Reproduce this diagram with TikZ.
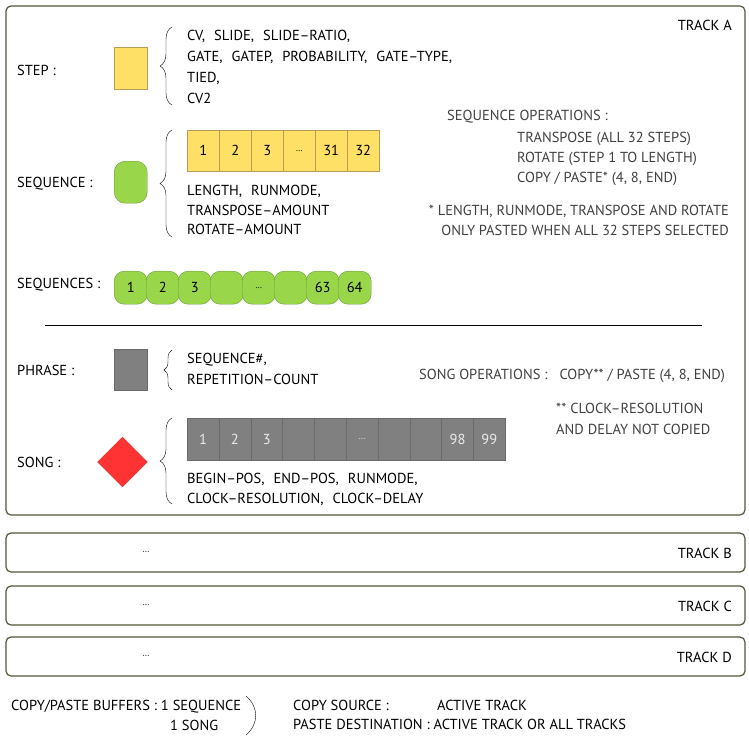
\documentclass[tikz,border=0pt]{standalone}
\usepackage{fontspec}
\setmainfont{PT Sans}
\usetikzlibrary{shapes.geometric,decorations.pathreplacing}
\definecolor{trackline}{HTML}{55553A}
\definecolor{stepfill}{HTML}{FFE066}
\definecolor{stepline}{HTML}{B89E55}
\definecolor{seqfill}{HTML}{99D64A}
\definecolor{seqline}{HTML}{6B9A3C}
\definecolor{phrfill}{HTML}{808080}
\definecolor{phrline}{HTML}{6A6A6A}
\definecolor{songfill}{HTML}{FF3333}
\definecolor{songline}{HTML}{D02A2A}
\definecolor{optext}{HTML}{404040}
\newcommand\celldots{{\fontsize{9}{9}\selectfont\ldots}}
\newcommand\gap{\hspace{9pt}}
\begin{document}
\begin{tikzpicture}[x=1pt, y=-1pt, font=\fontsize{14.5}{20}\selectfont,
	track/.style={draw=trackline, line width=1.2pt, rounded corners=5pt},
	label/.style={anchor=base west, inner sep=0pt},
	txt/.style={anchor=north west, inner sep=0pt, align=left},
	optxt/.style={txt, text=optext},
	cell/.style={minimum width=32pt, minimum height=41pt, inner sep=0pt, anchor=north west},
	brc/.style={decorate, decoration={brace, amplitude=12pt}, thin}]
	\useasboundingbox (0,0) rectangle (749,744);
	% track A
	\draw[track] (6,6) rectangle (745,515);
	\node[anchor=base east, inner sep=0pt] (trackA) at (732,30) {TRACK A};
	% step
	\node[label] (lstep) at (17,75) {STEP :};
	\node[draw=stepline, fill=stepfill, minimum width=33pt, minimum height=42pt, inner sep=0pt, anchor=north west] (step) at (114,47) {};
	\draw[brc] (172,105) -- (172,27);
	\node[txt, font=\fontsize{14.5}{21}\selectfont] (stepattr) at (187,30) {CV,\gap SLIDE,\gap SLIDE--RATIO,\\GATE,\gap GATEP,\gap PROBABILITY,\gap GATE--TYPE,\\TIED,\\CV2};
	% sequence
	\node[label] (lseq) at (17,187) {SEQUENCE :};
	\node[draw=seqline, fill=seqfill, rounded corners=11pt, minimum width=33pt, minimum height=42pt, inner sep=0pt, anchor=north west] (seq) at (114,161) {};
	\draw[brc] (172,237) -- (172,130);
	\foreach \t [count=\i from 0] in {1,2,3,\celldots,31,32}
		\node[cell, draw=stepline, fill=stepfill] (sc\i) at ({187+32*\i},130) {\t};
	\node[txt, font=\fontsize{14.5}{19.5}\selectfont] (seqattr) at (187,185) {LENGTH,\gap RUNMODE,\\TRANSPOSE--AMOUNT\\ROTATE--AMOUNT};
	% sequence operations
	\node[optxt] (seqops) at (447,110) {SEQUENCE OPERATIONS :};
	\node[optxt] (seqoplist) at (517,132) {TRANSPOSE (ALL 32 STEPS)\\ROTATE (STEP 1 TO LENGTH)\\COPY / PASTE* (4, 8, END)};
	\node[anchor=north east, inner sep=0pt, align=right, text=optext, font=\fontsize{14.5}{19.5}\selectfont] (seqnote) at (729,205) {* LENGTH, RUNMODE, TRANSPOSE AND ROTATE\\ONLY PASTED WHEN ALL 32 STEPS SELECTED};
	% sequences
	\node[label] (lseqs) at (17,288) {SEQUENCES :};
	\foreach \t [count=\i from 0] in {1,2,3,{},\celldots,{},63,64}
		\node[draw=seqline, fill=seqfill, rounded corners=10pt, minimum width=33pt, minimum height=33pt, inner sep=0pt, anchor=north west] (sq\i) at ({114+32*\i},271) {\t};
	\draw[line width=1pt] (45,325) -- (702,325);
	% phrase
	\node[label] (lphr) at (17,375) {PHRASE :};
	\node[draw=phrline, fill=phrfill, minimum width=33pt, minimum height=41pt, inner sep=0pt, anchor=north west] (phr) at (114,349) {};
	\draw[brc, decoration={amplitude=8pt}] (172,390) -- (172,350);
	\node[txt, font=\fontsize{14.5}{21}\selectfont] (phrattr) at (187,353) {SEQUENCE\#,\\REPETITION--COUNT};
	% song operations
	\node[label, text=optext] (songops) at (419,379) {SONG OPERATIONS :\hspace{12pt}COPY** / PASTE (4, 8, END)};
	\node[optxt, font=\fontsize{14.5}{21}\selectfont] (songnote) at (556,403) {** CLOCK--RESOLUTION\\AND DELAY NOT COPIED};
	% song
	\node[label] (lsong) at (17,467) {SONG :};
	\node[diamond, draw=songline, fill=songfill, minimum width=50pt, minimum height=50pt, inner sep=0pt] (song) at (122.5,462) {};
	\draw[brc] (172,504) -- (172,418);
	\foreach \t [count=\i from 0] in {1,2,3,{},{},\celldots,{},{},98,99}
		\node[cell, minimum width=31.8pt, minimum height=42pt, draw=phrline, fill=phrfill, text=white!92!black] (pc\i) at ({187+31.8*\i},418) {\t};
	\node[txt, font=\fontsize{14.5}{19.5}\selectfont] (songattr) at (187,473) {BEGIN--POS,\gap END--POS,\gap RUNMODE,\\CLOCK--RESOLUTION,\gap CLOCK--DELAY};
	% tracks B, C, D
	\foreach \n/\y in {B/533,C/586,D/637} {
		\draw[track] (6,\y) rectangle (745,\y+39);
		\node (dots\n) at (146,\y+19) {\celldots};
		\node[anchor=base east, inner sep=0pt] (track\n) at (732,\y+25) {TRACK \n};
	}
	% copy / paste buffers
	\node[label] (buf) at (11,710) {COPY/PASTE BUFFERS : 1 SEQUENCE};
	\node[label] (bufsong) at (170,730) {1 SONG};
	\draw (246,696) .. controls (259,707) and (259,724) .. (246,735);
	\node[label] (src) at (293,710) {COPY SOURCE :};
	\node[label] (srctrk) at (437,710) {ACTIVE TRACK};
	\node[label] (dst) at (293,729) {PASTE DESTINATION : ACTIVE TRACK OR ALL TRACKS};
\end{tikzpicture}
\end{document}
